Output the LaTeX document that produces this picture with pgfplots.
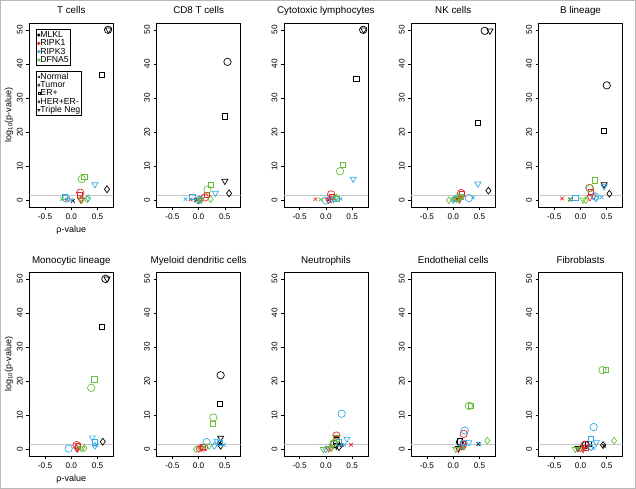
\documentclass[border=0pt]{standalone}
\usepackage{fontspec}
\setmainfont{Liberation Sans}
\usepackage{pgfplots}
\pgfplotsset{compat=1.18}
\definecolor{cK}{RGB}{0,0,0}
\definecolor{cR}{RGB}{228,40,40}
\definecolor{cB}{RGB}{50,170,230}
\definecolor{cG}{RGB}{105,190,55}
\pgfdeclareplotmark{dtri}{%
  \pgfpathmoveto{\pgfqpoint{0pt}{-\pgfplotmarksize}}%
  \pgfpathlineto{\pgfqpointpolar{30}{\pgfplotmarksize}}%
  \pgfpathlineto{\pgfqpointpolar{150}{\pgfplotmarksize}}%
  \pgfpathclose\pgfusepathqstroke}
\pgfplotsset{
  panel/.style={scale only axis, width=84pt, height=184pt, anchor=south west,
    xmin=-0.8, xmax=0.8, ymin=-2, ymax=52,
    xtick={-0.5,0,0.5}, xticklabels={-0.5,0.0,0.5},
    ytick={0,10,20,30,40,50}, yticklabels={0,10,20,30,40,50},
    tick align=outside, xtick pos=left, ytick pos=left,
    major tick length=3pt, tick style={black, line width=0.6pt},
    axis line style={line width=0.8pt},
    ticklabel style={font=\fontsize{8.2}{9}\selectfont},
    xticklabel style={yshift=0pt},
    yticklabel style={rotate=90, anchor=south},
    title style={font=\fontsize{9.8}{11}\selectfont, at={(0.5,1)}, anchor=base, yshift=3pt, inner sep=0pt},
    label style={font=\fontsize{9}{10}\selectfont},
  },
  mycls/.style={scatter/classes={
    kN={mark=x,cK,mark size=2.5pt}, kT={mark=o,cK,mark size=3.7pt}, kE={mark=square,cK,mark size=2.6pt}, kH={mark=diamond,cK,mark size=3.4pt}, kX={mark=dtri,cK,mark size=3.5pt},
    rN={mark=x,cR,mark size=2.5pt}, rT={mark=o,cR,mark size=3.7pt}, rE={mark=square,cR,mark size=2.6pt}, rH={mark=diamond,cR,mark size=3.4pt}, rX={mark=dtri,cR,mark size=3.5pt},
    bN={mark=x,cB,mark size=2.5pt}, bT={mark=o,cB,mark size=3.7pt}, bE={mark=square,cB,mark size=2.6pt}, bH={mark=diamond,cB,mark size=3.4pt}, bX={mark=dtri,cB,mark size=3.5pt},
    gN={mark=x,cG,mark size=2.5pt}, gT={mark=o,cG,mark size=3.7pt}, gE={mark=square,cG,mark size=2.6pt}, gH={mark=diamond,cG,mark size=3.4pt}, gX={mark=dtri,cG,mark size=3.5pt}}},
  leg/.style={scale only axis, width=84pt, height=184pt, anchor=south west, hide axis,
    xmin=0, xmax=1, ymin=0, ymax=1,
    legend cell align=left,
    legend image code/.code={\draw[mark repeat=2,mark phase=2,##1] plot coordinates {(0cm,0cm)(0.06cm,0cm)(0.12cm,0cm)};},
    legend style={anchor=north west, draw=black, line width=0.7pt, font=\fontsize{8.7}{9}\selectfont,
      inner xsep=1.2pt, inner ysep=1.5pt, row sep=0pt,
      nodes={inner sep=0.3pt, text height=6.2pt, text depth=1.5pt}}},
}
\newcommand{\panel}[5]{%
\begin{axis}[panel, at={(#1,#2)}, title={#3}, #4]
\addplot[gray!45, line width=0.9pt, forget plot] coordinates {(-1,1.3) (1,1.3)};
\addplot[only marks, scatter, scatter src=explicit symbolic, mycls, line width=0.7pt] table[meta=c, row sep=\\] {#5};
\end{axis}}
\begin{document}
\begin{tikzpicture}
\useasboundingbox (0,0) rectangle (636pt,489pt);
\draw[gray!55, line width=0.8pt] (0.4pt,0.4pt) rectangle (635.6pt,488.6pt);
% top row
\panel{29.3pt}{282pt}{T cells}{ylabel={log\textsubscript{10}(p-value)}, xlabel={ρ-value},
  ylabel style={at={(axis description cs:-0.214,0.5)}, anchor=base},
  xlabel style={at={(axis description cs:0.5,-0.138)}, anchor=base}}{x y c\\
0.70 50 kT\\ 0.71 50 kX\\ 0.58 36.7 kE\\ 0.68 3.2 kH\\ 0.03 -0.2 kN\\
0.17 2.2 rT\\ 0.17 1.4 rE\\ -0.08 0.2 rN\\ 0.2 0.3 rH\\ 0.18 0.1 rX\\
0.45 4.6 bX\\ -0.12 0.9 bE\\ -0.1 0.5 bT\\ 0.32 0.6 bH\\ 0.0 0.1 bN\\
0.2 6.2 gT\\ 0.25 6.8 gE\\ -0.18 0.3 gN\\ 0.3 0.3 gH\\ 0.2 0.1 gX\\}
\begin{axis}[leg, at={(29.3pt,282pt)}, legend style={at={(0.08,0.967)}}]
\addlegendimage{only marks, mark=*, cK, mark size=1.2pt}\addlegendentry{MLKL}
\addlegendimage{only marks, mark=*, cR, mark size=1.2pt}\addlegendentry{RIPK1}
\addlegendimage{only marks, mark=*, cB, mark size=1.2pt}\addlegendentry{RIPK3}
\addlegendimage{only marks, mark=*, cG, mark size=1.2pt}\addlegendentry{DFNA5}
\end{axis}
\begin{axis}[leg, at={(29.3pt,282pt)}, legend style={at={(0.08,0.74)}}]
\addlegendimage{only marks, mark=x, black, mark size=1.3pt, line width=0.5pt}\addlegendentry{Normal}
\addlegendimage{only marks, mark=o, black, mark size=1.3pt, line width=0.5pt}\addlegendentry{Tumor}
\addlegendimage{only marks, mark=square, black, mark size=1.1pt, line width=0.5pt}\addlegendentry{ER+}
\addlegendimage{only marks, mark=diamond, black, mark size=1.3pt, line width=0.5pt}\addlegendentry{HER+ER-}
\addlegendimage{only marks, mark=dtri, black, mark size=1.4pt, line width=0.5pt}\addlegendentry{Triple Neg}
\end{axis}
\panel{156.6pt}{282pt}{CD8 T cells}{}{x y c\\
0.55 40.6 kT\\ 0.5 24.6 kE\\ 0.5 5.6 kX\\ 0.58 2.0 kH\\ -0.05 0.1 kN\\
-0.15 0.2 rN\\ 0.15 1.5 rE\\ 0.12 0.8 rT\\ 0.05 0.2 rH\\ 0.0 0.0 rX\\
-0.25 0.3 bN\\ -0.12 1.0 bE\\ 0.32 2.1 bX\\ 0.0 0.0 bT\\ 0.02 0.2 bH\\
0.23 4.6 gE\\ 0.17 3.1 gT\\ 0.23 0.3 gH\\ 0.05 0.1 gX\\ 0.0 0.0 gN\\}
\panel{283.9pt}{282pt}{Cytotoxic lymphocytes}{}{x y c\\
0.71 50 kT\\ 0.72 50 kX\\ 0.58 35.5 kE\\ 0.85 5.2 kH\\ 0.05 0.1 kN\\
-0.2 0.3 rN\\ 0.1 1.7 rT\\ 0.12 1.0 rE\\ 0.1 0.2 rH\\ 0.05 0.0 rX\\
0.52 6.2 bX\\ 0.28 0.4 bN\\ 0.0 -0.1 bT\\ 0.2 0.5 bE\\ 0.15 0.3 bH\\
0.33 10.3 gE\\ 0.27 8.5 gT\\ -0.1 0.2 gN\\ 0.2 0.8 gH\\ 0.2 0.6 gX\\}
\panel{411.2pt}{282pt}{NK cells}{}{x y c\\
0.6 49.7 kT\\ 0.7 49.7 kX\\ 0.47 22.7 kE\\ 0.67 2.8 kH\\ 0.1 0.2 kN\\
0.15 2.1 rT\\ 0.17 1.8 rE\\ 0.05 0.3 rN\\ 0.1 0.5 rH\\ 0.12 0.2 rX\\
0.47 4.8 bX\\ 0.38 0.8 bN\\ 0.3 0.6 bT\\ 0.05 0.3 bE\\ 0.0 0.1 bH\\
-0.08 0.0 gH\\ 0.0 0.2 gN\\ 0.1 0.8 gT\\ 0.15 1.0 gE\\ 0.07 0.3 gX\\}
\panel{538.5pt}{282pt}{B lineage}{}{x y c\\
0.5 33.7 kT\\ 0.45 20.3 kE\\ 0.45 4.6 kX\\ 0.55 1.9 kH\\ -0.2 0.2 kN\\
-0.35 0.5 rN\\ 0.17 3.6 rT\\ 0.2 2.5 rE\\ 0.25 1.2 rH\\ 0.18 0.8 rX\\
0.45 4.0 bX\\ 0.4 0.8 bN\\ 0.28 1.1 bT\\ -0.1 0.7 bE\\ 0.3 0.5 bH\\
0.27 5.8 gE\\ 0.18 3.5 gT\\ 0.05 0.1 gX\\ 0.1 0.0 gH\\ -0.2 0.2 gN\\}
% bottom row
\panel{29.3pt}{33pt}{Monocytic lineage}{ylabel={log\textsubscript{10}(p-value)}, xlabel={ρ-value},
  ylabel style={at={(axis description cs:-0.214,0.5)}, anchor=base},
  xlabel style={at={(axis description cs:0.5,-0.138)}, anchor=base}}{x y c\\
0.65 50 kT\\ 0.68 50 kX\\ 0.58 36 kE\\ 0.6 2.2 kH\\ 0.15 0.2 kN\\
0.1 1.2 rT\\ 0.12 1.0 rE\\ 0.15 0.2 rN\\ 0.1 0.3 rH\\ 0.12 0.1 rX\\
0.4 3.4 bX\\ 0.45 2.0 bE\\ 0.48 1.3 bN\\ -0.05 0.2 bT\\ 0.45 1.0 bH\\
0.44 20.5 gE\\ 0.38 18 gT\\ 0.25 0.3 gH\\ 0.15 0.5 gN\\ 0.2 0.2 gX\\}
\panel{156.6pt}{33pt}{Myeloid dendritic cells}{}{x y c\\
0.42 21.7 kT\\ 0.4 13.4 kE\\ 0.42 3.3 kX\\ 0.42 1.0 kH\\ 0.4 1.8 kN\\
0.05 0.8 rN\\ 0.08 0.6 rE\\ 0.1 0.5 rT\\ 0.0 0.1 rH\\ 0.05 0.3 rX\\
0.15 2.1 bT\\ 0.35 2.4 bX\\ 0.4 1.9 bE\\ 0.48 1.3 bN\\ 0.3 1.0 bH\\
0.28 9.3 gT\\ 0.27 7.4 gE\\ -0.05 0.0 gH\\ 0.2 1.0 gX\\ 0.1 0.6 gN\\}
\panel{283.9pt}{33pt}{Neutrophils}{}{x y c\\
0.15 1.5 kT\\ 0.2 2.6 kE\\ 0.2 1.0 kX\\ 0.25 0.6 kH\\ 0.3 1.2 kN\\
0.2 4.0 rT\\ 0.48 1.3 rN\\ 0.2 3.0 rE\\ 0.1 0.5 rH\\ 0.05 0.2 rX\\
0.3 10.4 bT\\ 0.4 3.0 bX\\ 0.35 1.3 bN\\ 0.25 2.0 bE\\ 0.0 0.0 bH\\
-0.05 0.0 gX\\ 0.2 3.2 gE\\ 0.15 1.8 gT\\ 0.1 0.3 gH\\ 0.1 0.6 gN\\}
\panel{411.2pt}{33pt}{Endothelial cells}{}{x y c\\
0.13 2.1 kT\\ 0.12 2.3 kE\\ 0.48 1.5 kN\\ 0.15 0.8 kH\\ 0.1 0.3 kX\\
0.2 4.5 rT\\ 0.15 0.5 rN\\ 0.18 1.5 rE\\ 0.2 0.8 rH\\ 0.1 0.0 rX\\
0.22 5.5 bT\\ 0.3 2.0 bX\\ 0.5 1.5 bN\\ 0.2 1.8 bE\\ 0.15 1.0 bH\\
0.3 12.7 gT\\ 0.33 12.7 gE\\ 0.65 2.5 gH\\ 0.05 0.0 gX\\ 0.2 0.3 gN\\}
\panel{538.5pt}{33pt}{Fibroblasts}{}{x y c\\
0.1 1.2 kT\\ 0.15 1.5 kE\\ -0.05 0.3 kX\\ 0.43 1.2 kH\\ 0.45 1.0 kN\\
0.08 1.3 rT\\ 0.05 0.1 rN\\ 0.1 0.5 rE\\ 0.0 0.2 rH\\ 0.05 0.0 rX\\
0.25 6.5 bT\\ 0.2 3.0 bE\\ 0.3 2.0 bX\\ 0.25 0.3 bN\\ 0.2 0.5 bH\\
0.42 23.2 gT\\ 0.48 23.2 gE\\ 0.64 2.5 gH\\ -0.1 0.0 gX\\ 0.0 0.2 gN\\}
\end{tikzpicture}
\end{document}
